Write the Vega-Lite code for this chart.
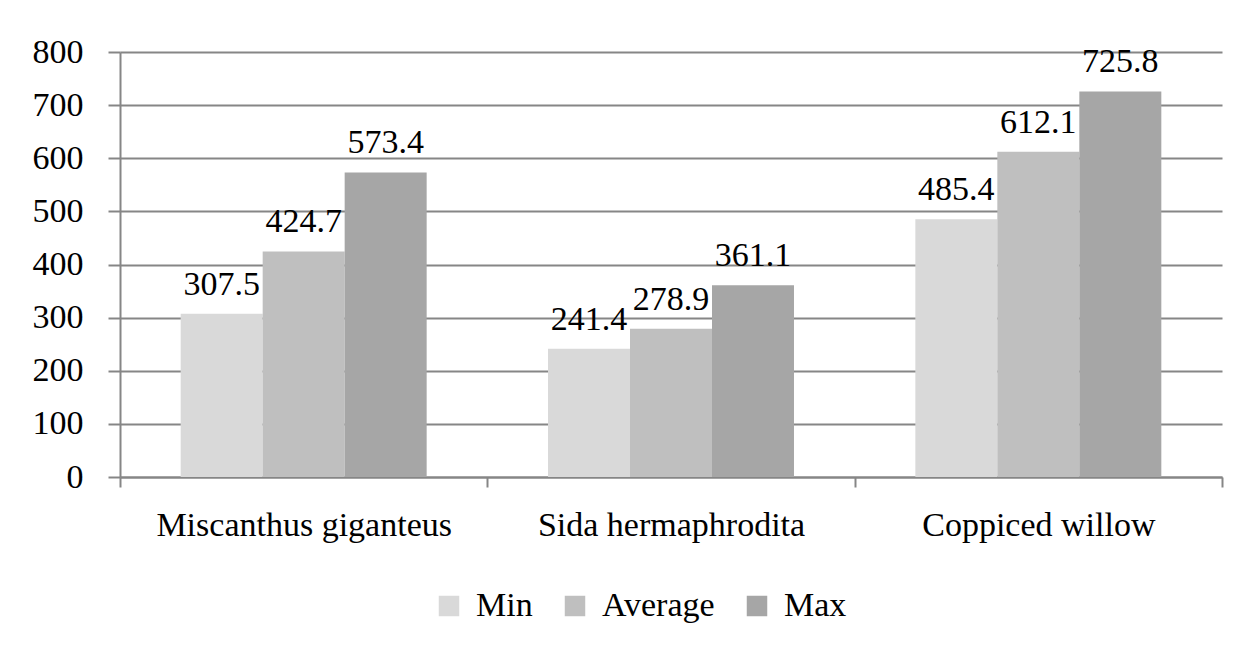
{
  "$schema": "https://vega.github.io/schema/vega-lite/v6.json",
  "autosize": "none",
  "width": 1102,
  "height": 425,
  "padding": {"left": 120, "top": 52, "right": 26, "bottom": 173},
  "background": "white",
  "data": {
    "values": [
      {"crop": "Miscanthus giganteus", "stat": "Min", "value": 307.5},
      {"crop": "Miscanthus giganteus", "stat": "Average", "value": 424.7},
      {"crop": "Miscanthus giganteus", "stat": "Max", "value": 573.4},
      {"crop": "Sida hermaphrodita", "stat": "Min", "value": 241.4},
      {"crop": "Sida hermaphrodita", "stat": "Average", "value": 278.9},
      {"crop": "Sida hermaphrodita", "stat": "Max", "value": 361.1},
      {"crop": "Coppiced willow", "stat": "Min", "value": 485.4},
      {"crop": "Coppiced willow", "stat": "Average", "value": 612.1},
      {"crop": "Coppiced willow", "stat": "Max", "value": 725.8}
    ]
  },
  "encoding": {
    "x": {
      "field": "crop", "type": "nominal",
      "sort": ["Miscanthus giganteus", "Sida hermaphrodita", "Coppiced willow"],
      "scale": {"paddingInner": 0, "paddingOuter": 0},
      "axis": {
        "title": null, "labelAngle": 0, "tickBand": "extent", "labelLimit": 0,
        "domainColor": "#868686", "domainWidth": 2,
        "tickColor": "#868686", "tickWidth": 2, "tickSize": 10,
        "labelFont": "Liberation Serif", "labelFontSize": 34, "labelColor": "#000000",
        "labelPadding": 21, "grid": false
      }
    },
    "xOffset": {
      "field": "stat", "type": "nominal",
      "sort": ["Min", "Average", "Max"],
      "scale": {"paddingInner": 0, "paddingOuter": 0.74}
    },
    "y": {
      "field": "value", "type": "quantitative",
      "scale": {"domain": [0, 800], "nice": false},
      "axis": {
        "title": null, "values": [0, 100, 200, 300, 400, 500, 600, 700, 800],
        "grid": true, "gridColor": "#868686", "gridWidth": 2,
        "domainColor": "#868686", "domainWidth": 2,
        "tickColor": "#868686", "tickWidth": 2, "tickSize": 12,
        "labelFont": "Liberation Serif", "labelFontSize": 34, "labelColor": "#000000",
        "labelPadding": 25
      }
    }
  },
  "layer": [
    {
      "mark": {"type": "bar"},
      "encoding": {
        "color": {
          "field": "stat", "type": "nominal",
          "sort": ["Min", "Average", "Max"],
          "scale": {"domain": ["Min", "Average", "Max"], "range": ["#d9d9d9", "#bfbfbf", "#a6a6a6"]},
          "legend": {
            "title": null, "orient": "none", "direction": "horizontal",
            "legendX": 312, "legendY": 537,
            "symbolType": "square", "symbolSize": 420, "symbolStrokeWidth": 0,
            "labelFont": "Liberation Serif", "labelFontSize": 34, "labelColor": "#000000",
            "labelOffset": 10, "columnPadding": 25
          }
        }
      }
    },
    {
      "mark": {"type": "text", "baseline": "bottom", "dy": -12, "font": "Liberation Serif", "fontSize": 34, "color": "#000000"},
      "encoding": {
        "text": {"field": "value", "type": "quantitative", "format": ".1f"}
      }
    }
  ],
  "config": {
    "view": {"stroke": null}
  }
}
